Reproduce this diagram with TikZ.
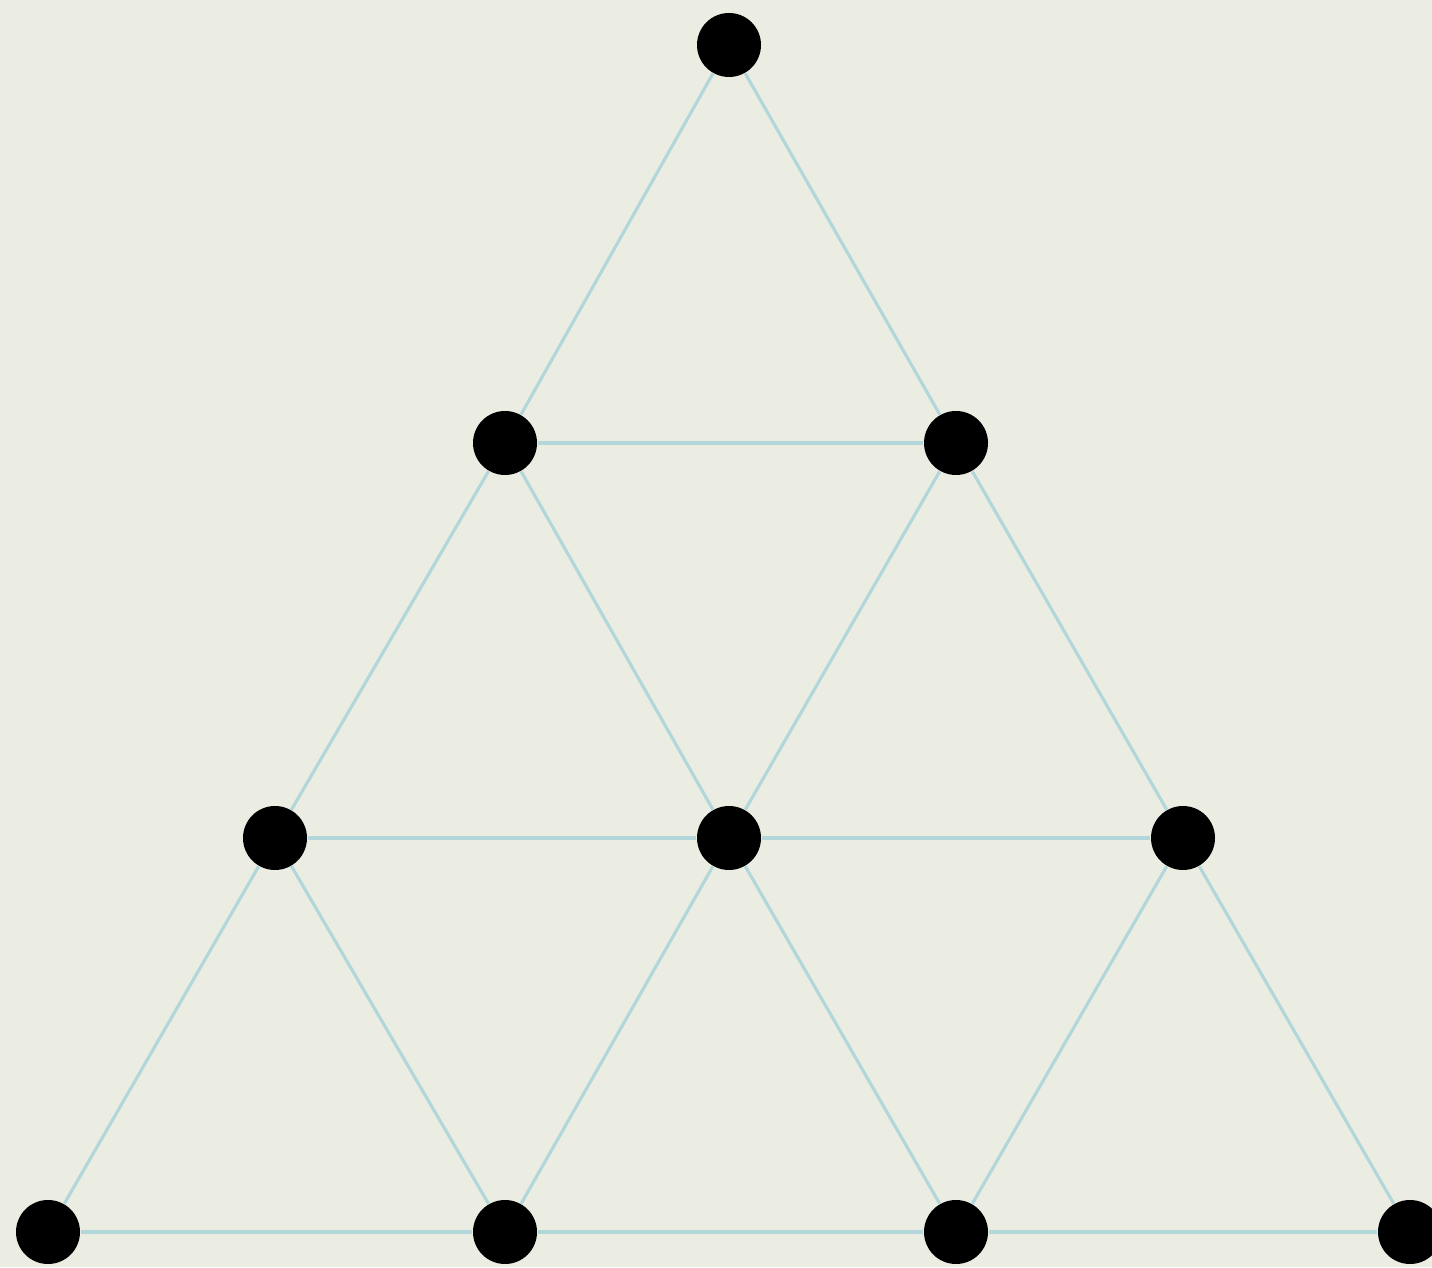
\documentclass[tikz,border=0pt]{standalone}
\usepackage{xcolor}
\usepackage{tikz}
\definecolor{paper}{HTML}{EBEDE3}
\definecolor{linkblue}{HTML}{B3D6DA}
\tikzset{
    dot/.style={circle,fill=black,minimum size=6.4mm,inner sep=0pt},
    link/.style={draw=linkblue,line width=0.9pt}
}
\begin{document}
\begin{tikzpicture}
    \fill[paper] (0,0) rectangle (14.32,12.67);
    \useasboundingbox (0,0) rectangle (14.32,12.67);

    \node[dot] (top) at (7.29,12.22) {};
    \node[dot] (al) at (5.05,8.24) {};
    \node[dot] (ar) at (9.56,8.24) {};
    \node[dot] (bl) at (2.75,4.29) {};
    \node[dot] (bm) at (7.29,4.29) {};
    \node[dot] (br) at (11.83,4.29) {};
    \node[dot] (c1) at (0.48,0.35) {};
    \node[dot] (c2) at (5.05,0.35) {};
    \node[dot] (c3) at (9.56,0.35) {};
    \node[dot] (c4) at (14.10,0.35) {};

    \draw[link] (top) -- (al);
    \draw[link] (top) -- (ar);
    \draw[link] (al) -- (ar);
    \draw[link] (al) -- (bl);
    \draw[link] (al) -- (bm);
    \draw[link] (ar) -- (bm);
    \draw[link] (ar) -- (br);
    \draw[link] (bl) -- (bm);
    \draw[link] (bm) -- (br);
    \draw[link] (bl) -- (c1);
    \draw[link] (bl) -- (c2);
    \draw[link] (bm) -- (c2);
    \draw[link] (bm) -- (c3);
    \draw[link] (br) -- (c3);
    \draw[link] (br) -- (c4);
    \draw[link] (c1) -- (c2);
    \draw[link] (c2) -- (c3);
    \draw[link] (c3) -- (c4);
\end{tikzpicture}
\end{document}
